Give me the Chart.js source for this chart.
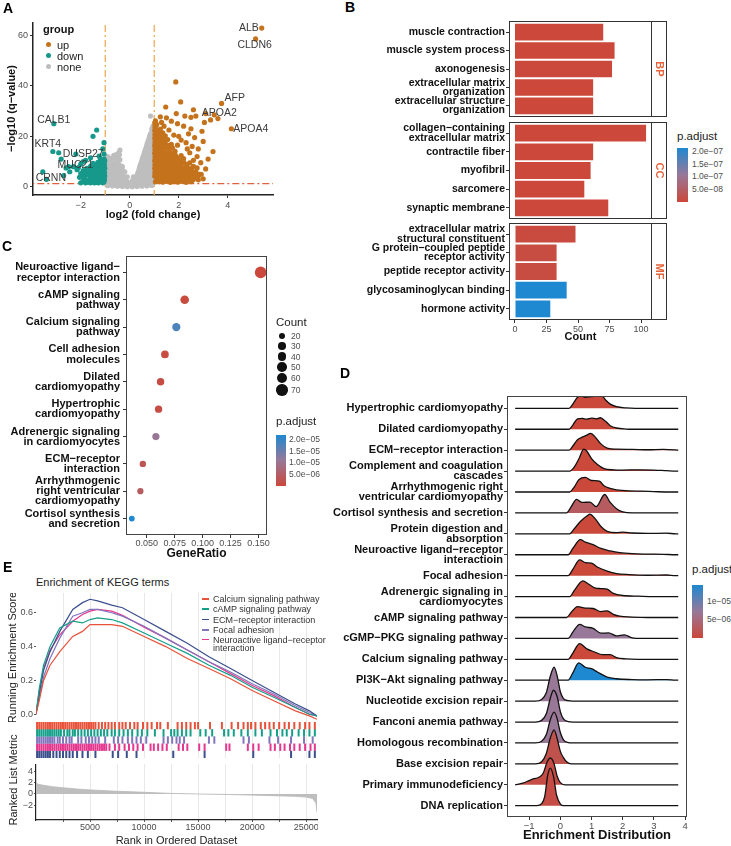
<!DOCTYPE html>
<html>
<head>
<meta charset="utf-8">
<script src="https://cdn.jsdelivr.net/npm/chart.js@4.4.0/dist/chart.umd.min.js"></script>
<style>
body { margin: 0; background: #fff; }
#fig { position: relative; width: 731px; height: 846px; overflow: hidden; font-family: 'Liberation Sans', Arial, sans-serif; color: #222; }
#fig canvas { position: absolute; }
.t { position: absolute; white-space: nowrap; line-height: 1; }
</style>
</head>
<body>
<div id="fig"></div>
<script>
// ---------------- data ----------------

// A: volcano, [log2FC, -log10 q]
var upPts = [
  [1.05,2],[1.2,2.1],[1.36,1.9],[1.5,2.2],[1.66,1.8],[1.8,2.1],[1.97,1.9],[2.12,2.2],[2.3,1.8],[2.52,2.1],
  [1.12,2.8],[1.28,2.8],[1.43,2.7],[1.58,2.9],[1.74,2.8],[1.88,2.7],[2.04,2.9],[2.2,2.8],[2.38,2.7],[2.6,2.9],[2.8,2.8],
  [1.1,3.5],[1.26,3.6],[1.41,3.3],[1.56,3.7],[1.72,3.4],[1.9,3.6],[2.06,3.3],[2.24,3.8],[2.46,3.4],[2.72,3.6],
  [1.02,4.3],[1.17,4.3],[1.32,4.2],[1.47,4.4],[1.63,4.3],[1.8,4.2],[1.98,4.4],[2.15,4.3],[2.33,4.2],[2.55,4.4],[2.8,4.3],
  [1.04,5.1],[1.19,4.9],[1.34,5.2],[1.5,4.8],[1.66,5.1],[1.81,5.3],[2.0,4.9],[2.19,5.2],[2.41,4.8],[2.62,5.1],[2.92,5],
  [1.03,5.8],[1.18,5.8],[1.33,5.7],[1.5,5.9],[1.68,5.8],[1.86,5.7],[2.05,5.9],[2.25,5.8],[2.46,5.7],[2.7,5.9],
  [1.1,6.6],[1.26,6.4],[1.41,6.7],[1.59,6.3],[1.76,6.6],[1.95,6.4],[2.14,6.7],[2.36,6.5],[2.55,6.3],
  [1.02,7.3],[1.18,7.3],[1.33,7.2],[1.5,7.4],[1.67,7.3],[1.85,7.2],[2.04,7.4],[2.25,7.3],[2.45,7.2],
  [1.05,8.1],[1.2,7.9],[1.36,8.2],[1.51,7.8],[1.7,8.1],[1.9,7.9],[2.1,8.2],[2.31,7.8],[2.6,8.1],
  [1.03,8.8],[1.17,8.8],[1.33,8.7],[1.52,8.9],[1.7,8.8],[1.9,8.7],[2.1,8.9],[2.33,8.8],
  [1.1,9.6],[1.25,9.4],[1.44,9.7],[1.6,9.3],[1.8,9.6],[2.0,9.4],[2.21,9.7],[2.45,9.5],
  [1.02,10.3],[1.18,10.3],[1.34,10.2],[1.52,10.4],[1.7,10.3],[1.9,10.2],[2.1,10.4],
  [1.05,11.1],[1.2,10.9],[1.36,11.2],[1.55,10.8],[1.75,11.1],[1.96,10.9],[2.2,11.2],
  [1.03,11.8],[1.17,11.8],[1.32,11.7],[1.5,11.9],[1.7,11.8],[1.92,11.7],
  [1.1,12.6],[1.25,12.4],[1.45,12.7],[1.65,12.3],[1.86,12.6],[2.1,12.4],
  [1.02,13.3],[1.16,13.3],[1.32,13.2],[1.52,13.4],[1.72,13.3],
  [1.05,14.1],[1.2,13.9],[1.4,14.2],[1.6,13.8],[1.85,14.1],
  [1.03,14.8],[1.18,14.8],[1.38,14.7],[1.6,14.9],
  [1.1,15.6],[1.3,15.4],[1.5,15.7],[1.75,15.3],
  [1.02,16.3],[1.17,16.3],[1.36,16.2],[1.58,16.4],
  [1.05,17.1],[1.25,16.9],[1.45,17.2],[1.7,16.8],
  [1.03,17.8],[1.2,17.8],[1.4,17.7],
  [1.1,18.6],[1.3,18.4],[1.55,18.7],
  [1.02,19.3],[1.18,19.3],[1.36,19.2],
  [1.05,20.1],[1.25,19.9],[1.45,20.2],[1.03,20.8],[1.2,20.8],
  [1.1,21.6],[1.35,21.4],[1.02,22.3],[1.18,22.3],
  [1.05,23.1],[1.25,22.9],[1.03,23.8],[1.1,24.6],[1.02,25.3],[1.05,26.1],
  [2.75,12],[2.9,9.6],[3.1,7.1],[2.8,15],[3.0,18],[2.65,19.5],[2.4,21],[2.2,24],[1.95,25],[1.7,26],
  [2.5,23],[3.2,11],[3.4,14],[2.95,22],[3.3,26.5],[3.05,25.5],[2.7,28],[2.5,27.5],[2.25,28],[1.5,27.3],
  [1.25,27.7],[1.9,29],[2.6,30.5],[3.1,29],[1.47,31.6],[2.08,33.6],[1.88,41.5],[3.45,28.5],[3.6,27],
  [3.75,33],[4.15,23],[5.14,58.5],[5.39,62.8],[2.0,20],[2.3,17.5],[2.55,16],[2.85,5],[3.0,3.2],
  [2.45,13.5],[2.35,15],[2.6,10.5],[2.75,7.5],[1.95,16.5],[2.1,18.5],[1.8,20.5],[1.6,22.5],[1.4,24],[1.3,25.5]
];
var downPts = [
  [-1.1,1.6],[-1.28,1.6],[-1.44,1.6],[-1.6,1.6],[-1.8,1.6],[-2.0,1.6],
  [-1.05,2],[-1.2,2.2],[-1.35,1.8],[-1.5,2.1],[-1.7,1.9],[-1.9,2.3],
  [-1.03,2.8],[-1.18,2.8],[-1.32,2.8],[-1.48,2.8],[-1.62,2.8],[-1.8,2.8],
  [-1.1,3.5],[-1.25,3.7],[-1.4,3.3],[-1.6,3.6],[-1.85,3.4],[-2.05,3.8],
  [-1.02,4.3],[-1.16,4.3],[-1.3,4.3],[-1.46,4.3],[-1.64,4.3],[-1.9,4.3],
  [-1.05,5],[-1.2,5.2],[-1.35,4.8],[-1.55,5.1],[-1.75,4.9],[-2.0,5.3],
  [-1.03,5.8],[-1.17,5.8],[-1.32,5.8],[-1.48,5.8],[-1.66,5.8],[-1.85,5.8],
  [-1.1,6.5],[-1.25,6.7],[-1.45,6.3],[-1.65,6.6],[-1.9,6.4],[-2.15,6.8],
  [-1.02,7.3],[-1.16,7.3],[-1.32,7.3],[-1.5,7.3],[-1.75,7.3],
  [-1.05,8],[-1.2,8.2],[-1.4,7.8],[-1.6,8.1],[-2.1,7.6],[-2.3,8],
  [-1.03,8.8],[-1.16,8.8],[-1.33,8.8],
  [-1.1,9.5],[-1.3,9.7],[-1.5,9.3],[-1.02,10.3],[-1.15,10.3],[-1.05,11],[-1.2,11.2],
  [-1.05,13],[-1.1,15],[-1.05,17.5],[-1.35,22.5],[-1.5,20],[-1.25,12.2],[-1.6,11.5],[-1.8,10.5],
  [-2.0,9],[-2.5,8],[-2.6,7.5],[-2.8,11],[-2.9,13.5],[-3.14,14],[-3.1,25],[-3.55,6],[-3.4,3],
  [-2.2,13],[-1.9,10],[-2.7,4.5],[-2.45,6]
];
var nonePts = [
  [-0.9,0.5],[-0.7,0.4],[-0.5,0.3],[-0.3,0.2],[-0.1,0.1],[0.1,0.1],[0.3,0.2],[0.5,0.3],[0.7,0.4],[0.9,0.6],
  [-0.85,0.9],[-0.6,0.9],[-0.4,0.8],[-0.2,0.7],[0,0.6],[0.2,0.7],[0.4,0.8],[0.6,0.9],[0.85,1.0],
  [-0.95,1.5],[-0.8,1.4],[-0.6,1.6],[-0.4,1.3],[-0.2,1.1],[0.2,1.0],[0.4,1.4],[0.6,1.5],[0.8,1.7],[0.95,1.5],
  [-0.88,2.2],[-0.68,2.2],[-0.48,2.2],[-0.28,2.1],[-0.1,1.9],[0.1,1.8],[0.32,2.1],[0.52,2.2],[0.72,2.2],[0.9,2.3],
  [-0.9,3],[-0.75,3.2],[-0.55,2.9],[-0.35,3.1],[-0.15,2.6],[0.25,2.8],[0.45,3.1],[0.65,2.9],[0.85,3.2],
  [-0.85,3.8],[-0.65,3.8],[-0.45,3.8],[-0.28,3.7],[0.2,3.4],[0.38,3.8],[0.58,3.8],[0.78,3.8],[0.97,3.8],
  [-0.95,4.5],[-0.8,4.7],[-0.6,4.4],[-0.4,4.6],[-0.25,4.2],[0.3,4.4],[0.5,4.6],[0.7,4.5],[0.9,4.7],
  [-0.88,5.3],[-0.68,5.3],[-0.48,5.3],[-0.3,5.2],[0.32,5.2],[0.45,5.3],[0.62,5.3],[0.82,5.3],
  [-0.9,6],[-0.7,6.2],[-0.5,5.9],[-0.35,6.1],[0.35,6],[0.55,6.2],[0.75,5.9],[0.95,6.1],
  [-0.85,6.8],[-0.62,6.8],[-0.45,6.8],[-0.3,6.6],[0.38,6.8],[0.5,6.8],[0.68,6.8],[0.88,6.8],
  [-0.95,7.5],[-0.75,7.3],[-0.55,7.6],[-0.4,7.4],[0.4,7.6],[0.6,7.4],[0.8,7.5],
  [-0.82,8.3],[-0.65,8.3],[-0.5,8.3],[-0.35,8.2],[0.42,8.3],[0.55,8.3],[0.72,8.3],[0.92,8.3],
  [-0.9,9],[-0.6,9.2],[-0.45,8.9],[0.45,9.1],[0.65,8.9],[0.9,9.2],
  [-0.75,9.8],[-0.5,9.8],[0.48,9.8],[0.6,9.8],[0.78,9.8],[0.95,9.8],
  [-0.95,10.5],[-0.55,10.4],[-0.4,10.7],[0.5,10.5],[0.7,10.7],[0.85,10.4],
  [-0.78,11.3],[-0.6,11.3],[-0.45,11.3],[0.52,11.3],[0.65,11.3],[0.8,11.3],[0.97,11.3],
  [-0.9,12],[-0.5,12.2],[0.55,12.1],[0.75,11.9],[0.95,12.2],
  [-0.55,12.8],[-0.42,12.8],[0.58,12.8],[0.72,12.8],[0.88,12.8],
  [-0.45,13.5],[-0.4,14.6],[0.6,13.6],[0.8,13.4],[-0.8,11],[-0.65,12.5],[-0.3,8],[-0.2,6],[-0.1,4],
  [0.0,1.5],[0.1,2.5],[0.15,4],
  [0.62,14.2],[0.75,14.2],[0.9,14.2],[0.68,15.8],[0.8,15.8],[0.97,15.8],[0.72,17.3],[0.85,17.3],
  [0.78,18.8],[0.92,18.8],[0.82,20.3],[0.97,20.3],[0.92,23.2],
  [0.65,15],[0.85,15.2],[0.95,14.8],[0.7,16.5],[0.9,16.6],[0.75,18],[0.95,18.1],[0.8,19.5],[0.9,19.6],
  [0.85,21],[0.95,21.1],[0.9,22.5],[0.95,24],[0.85,28]
];
var fcCut = 1;
var qCut = 1.3;
var geneNames = ['ALB', 'CLDN6', 'AFP', 'APOA2', 'APOA4', 'CALB1', 'KRT4', 'DUSP27', 'MUC21', 'CRNN'];
var geneFC = [5.39, 5.14, 3.75, 3.45, 4.15, -3.1, -3.14, -1.9, -2.3, -3.55];
var geneQ = [62.8, 58.5, 33, 28.5, 23, 25, 14, 10, 8, 6];
var volcanoXTicks = [-2, 0, 2, 4];
var volcanoYTicks = [0, 20, 40, 60];

// B: GO barplot
var bpTerms = ['muscle contraction', 'muscle system process', 'axonogenesis', ['extracellular matrix', 'organization'], ['extracellular structure', 'organization']];
var bpCount = [70, 79, 77, 62, 62];
var bpP = [1e-9, 1e-9, 2e-9, 1e-9, 1e-9];
var ccTerms = [['collagen\u2212containing', 'extracellular matrix'], 'contractile fiber', 'myofibril', 'sarcomere', 'synaptic membrane'];
var ccCount = [104, 62, 60, 55, 74];
var ccP = [1e-9, 1e-9, 1e-9, 1e-9, 1e-9];
var mfTerms = [['extracellular matrix', 'structural constituent'], ['G protein\u2212coupled peptide', 'receptor activity'], 'peptide receptor activity', 'glycosaminoglycan binding', 'hormone activity'];
var mfCount = [48, 33, 33, 41, 28];
var mfP = [5e-9, 8e-9, 8e-9, 2.12e-7, 2.12e-7];
var goCountTicks = [0, 25, 50, 75, 100];
var goLegendTicks = ['2.0e\u221207', '1.5e\u221207', '1.0e\u221207', '5.0e\u221208'];

// C: KEGG dotplot
var keggTerms = [['Neuroactive ligand\u2212', 'receptor interaction'], ['cAMP signaling', 'pathway'], ['Calcium signaling', 'pathway'], ['Cell adhesion', 'molecules'], ['Dilated', 'cardiomyopathy'], ['Hypertrophic', 'cardiomyopathy'], ['Adrenergic signaling', 'in cardiomyocytes'], ['ECM\u2212receptor', 'interaction'], ['Arrhythmogenic', 'right ventricular', 'cardiomyopathy'], ['Cortisol synthesis', 'and secretion']];
var keggRatio = [0.152, 0.0839, 0.0764, 0.0662, 0.0623, 0.0605, 0.0581, 0.0464, 0.0442, 0.0365];
var keggCount = [73, 40, 37, 32, 30, 29, 28, 22, 21, 18];
var keggP = [2e-7, 5e-7, 1.75e-5, 8e-7, 1e-6, 1.2e-6, 1.05e-5, 3e-6, 4.5e-6, 2.17e-5];
var keggRatioTicks = [0.05, 0.075, 0.1, 0.125, 0.15];
var keggCountLegend = [20, 30, 40, 50, 60, 70];
var keggLegendTicks = ['2.0e\u221205', '1.5e\u221205', '1.0e\u221205', '5.0e\u221206'];

// D: ridgeline, top to bottom, shapes are [x, height in rows]
var ridgeTerms = ['Hypertrophic cardiomyopathy', 'Dilated cardiomyopathy', 'ECM\u2212receptor interaction', ['Complement and coagulation', 'cascades'], ['Arrhythmogenic right', 'ventricular cardiomyopathy'], 'Cortisol synthesis and secretion', ['Protein digestion and', 'absorption'], ['Neuroactive ligand\u2212receptor', 'interactioin'], 'Focal adhesion', ['Adrenergic signaling in', 'cardiomyocytes'], 'cAMP signaling pathway', 'cGMP\u2212PKG signaling pathway', 'Calcium signaling pathway', 'PI3K\u2212Akt signaling pathway', 'Nucleotide excision repair', 'Fanconi anemia pathway', 'Homologous recombination', 'Base excision repair', 'Primary immunodeficiency', 'DNA replication'];
var ridgeP = [1e-7, 1e-7, 1e-7, 1e-7, 1e-7, 3e-6, 1e-7, 1e-7, 1e-7, 1e-7, 1e-7, 7.2e-6, 1e-7, 1.43e-5, 7e-6, 7e-6, 7e-6, 1.5e-6, 8e-7, 8e-7];
var ridgeShapes = [
  [[0.28,0],[0.4,0.2],[0.55,0.53],[0.65,0.58],[0.8,0.53],[1.0,0.56],[1.2,0.59],[1.35,0.57],[1.45,0.4],[1.6,0.2],[1.8,0.08],[2.1,0.02],[2.4,0]],
  [[0.28,0],[0.4,0.2],[0.55,0.5],[0.7,0.52],[0.85,0.48],[1.0,0.53],[1.15,0.5],[1.28,0.55],[1.45,0.38],[1.6,0.17],[1.8,0.06],[2.1,0.01],[2.4,0]],
  [[0.28,0],[0.4,0.2],[0.55,0.5],[0.7,0.62],[0.85,0.72],[0.97,0.8],[1.1,0.66],[1.3,0.3],[1.5,0.1],[1.8,0.05],[2.3,0.04],[2.8,0.02],[3.3,0.04],[3.7,0.01]],
  [[0.3,0],[0.45,0.2],[0.6,0.6],[0.75,1.05],[0.85,0.95],[1.0,0.6],[1.2,0.3],[1.4,0.12],[1.7,0.06],[2.0,0.05],[2.5,0.06],[3.0,0.05],[3.4,0.02],[3.7,0]],
  [[0.3,0],[0.45,0.25],[0.6,0.6],[0.8,0.7],[1.0,0.55],[1.25,0.52],[1.4,0.3],[1.6,0.17],[1.8,0.1],[2.2,0.05],[2.6,0.04],[3.0,0.02],[3.5,0]],
  [[0.2,0],[0.35,0.3],[0.52,0.65],[0.7,0.5],[0.95,0.52],[1.15,0.3],[1.42,0.88],[1.6,0.5],[1.8,0.2],[2.0,0.05],[2.3,0]],
  [[0.3,0],[0.45,0.25],[0.65,0.6],[0.85,0.85],[0.95,0.94],[1.1,0.75],[1.3,0.35],[1.5,0.12],[1.8,0.06],[2.0,0.08],[2.3,0.04],[2.8,0.02],[3.4,0.03],[3.7,0]],
  [[0.25,0],[0.4,0.3],[0.64,0.72],[0.8,0.6],[1.05,0.48],[1.3,0.3],[1.6,0.18],[1.9,0.1],[2.3,0.05],[2.8,0.03],[3.3,0.02],[3.7,0]],
  [[0.25,0],[0.4,0.3],[0.62,0.75],[0.8,0.62],[1.0,0.6],[1.2,0.4],[1.5,0.22],[1.8,0.1],[2.2,0.05],[2.8,0.02],[3.4,0.03],[3.7,0]],
  [[0.3,0],[0.45,0.3],[0.72,0.75],[0.9,0.6],[1.1,0.42],[1.3,0.38],[1.5,0.35],[1.7,0.15],[2.0,0.05],[2.5,0.02],[3.0,0]],
  [[0.2,0],[0.35,0.25],[0.55,0.52],[0.8,0.45],[1.05,0.43],[1.3,0.28],[1.5,0.32],[1.7,0.15],[1.9,0.06],[2.3,0.02],[2.8,0]],
  [[0.25,0],[0.4,0.3],[0.62,0.67],[0.8,0.55],[1.05,0.48],[1.3,0.25],[1.55,0.26],[1.8,0.12],[2.05,0.17],[2.3,0.03],[2.6,0]],
  [[0.25,0],[0.4,0.3],[0.62,0.75],[0.85,0.5],[1.1,0.35],[1.35,0.22],[1.6,0.22],[1.8,0.08],[2.1,0.02],[2.5,0]],
  [[0.25,0],[0.4,0.35],[0.59,0.83],[0.8,0.62],[1.0,0.55],[1.2,0.38],[1.5,0.15],[1.8,0.07],[2.3,0.03],[2.8,0.02],[3.4,0.03],[3.7,0]],
  [[-0.8,0],[-0.6,0.08],[-0.45,0.4],[-0.32,1.2],[-0.2,1.63],[-0.1,1.2],[0.0,0.45],[0.1,0.12],[0.25,0.02],[0.4,0]],
  [[-0.8,0],[-0.6,0.08],[-0.45,0.4],[-0.32,1.15],[-0.22,1.52],[-0.1,1.2],[0.0,0.5],[0.1,0.15],[0.25,0.02],[0.4,0]],
  [[-0.8,0],[-0.6,0.08],[-0.45,0.4],[-0.32,1.12],[-0.2,1.47],[-0.1,1.15],[0.0,0.5],[0.1,0.15],[0.25,0.02],[0.4,0]],
  [[-0.8,0],[-0.6,0.1],[-0.45,0.5],[-0.32,1.25],[-0.2,1.63],[-0.1,1.2],[0.0,0.6],[0.1,0.3],[0.2,0.1],[0.35,0]],
  [[-1.2,0.08],[-1.0,0.2],[-0.85,0.29],[-0.7,0.35],[-0.55,0.55],[-0.42,1.1],[-0.32,1.28],[-0.2,1.0],[-0.1,0.4],[0.0,0.1],[0.15,0]],
  [[-0.75,0],[-0.6,0.1],[-0.5,0.45],[-0.4,1.5],[-0.32,1.8],[-0.22,1.4],[-0.12,0.5],[0.0,0.08],[0.1,0]]
];
var ridgeFrom = -1.45;
var ridgeTo = 3.78;
var ridgeXTicks = [-1, 0, 1, 2, 3, 4];
var ridgeLegendTicks = ['1e\u221205', '5e\u221206'];

// E: GSEA running score (rank in thousands)
var gseaNames = ['Calcium signaling pathway', 'cAMP signaling pathway', 'ECM\u2212receptor interaction', 'Focal adhesion', ['Neuroactive ligand\u2212receptor', 'interaction']];
var esRankK = [0, 0.3, 0.7, 1.3, 2.2, 3.4, 4.3, 5.0, 5.7, 7.0, 8.0, 10, 12, 14, 16, 18, 20, 22, 24, 25.3, 26];
var esCalcium = [0, 0.08, 0.20, 0.29, 0.37, 0.46, 0.49, 0.53, 0.53, 0.53, 0.52, 0.46, 0.40, 0.33, 0.27, 0.21, 0.14, 0.08, 0.02, -0.01, -0.03];
var esCamp = [0, 0.15, 0.29, 0.40, 0.51, 0.55, 0.54, 0.56, 0.57, 0.56, 0.54, 0.48, 0.42, 0.36, 0.29, 0.23, 0.16, 0.10, 0.04, 0.0, -0.01];
var esEcm = [0, 0.12, 0.26, 0.37, 0.49, 0.62, 0.66, 0.68, 0.67, 0.645, 0.63, 0.56, 0.49, 0.42, 0.34, 0.27, 0.20, 0.13, 0.06, 0.02, -0.01];
var esFocal = [0, 0.10, 0.22, 0.33, 0.45, 0.58, 0.60, 0.62, 0.62, 0.60, 0.58, 0.52, 0.45, 0.38, 0.31, 0.25, 0.18, 0.12, 0.05, 0.01, -0.01];
var esNeuro = [0, 0.14, 0.27, 0.38, 0.47, 0.55, 0.59, 0.61, 0.62, 0.61, 0.585, 0.515, 0.45, 0.38, 0.31, 0.24, 0.17, 0.11, 0.04, 0.0, -0.01];
var hitsCalcium = [0.1,0.3,0.5,0.7,0.9,1.1,1.3,1.5,1.7,1.9,2.1,2.3,2.5,2.7,2.9,3.1,3.3,3.5,3.7,3.9,4.1,4.3,4.5,4.7,4.9,5.1,5.3,5.5,5.8,6.1,6.4,6.7,7.0,7.3,7.7,8.0,8.3,8.7,9.1,9.4,9.9,10.3,10.7,11.2,11.5,12.2,13.1,13.5,13.9,14.3,14.7,15.0,16.1,17.2,18.1,18.7,19.2,19.6,19.9,20.3,20.8,21.2,21.6,22.0,22.5,23.0,23.4,23.9,24.4,24.9,25.3,25.8];
var hitsCamp = [0.1,0.3,0.5,0.7,0.9,1.1,1.3,1.5,1.7,1.9,2.1,2.3,2.6,2.9,3.1,3.4,3.6,3.9,4.2,4.5,4.8,5.1,5.4,5.7,6.0,6.3,6.6,7.0,7.3,7.7,8.1,8.5,8.9,9.4,9.8,10.3,11.0,11.8,12.5,12.8,13.1,13.5,13.9,14.3,15.2,15.7,16.3,17.4,17.8,18.3,19.0,19.6,20.3,20.9,21.7,22.3,22.8,23.2,23.7,24.3,24.8,25.3,25.8];
var hitsFocal = [0.1,0.3,0.5,0.7,0.9,1.1,1.3,1.5,1.7,2.0,2.2,2.5,2.8,3.1,3.3,3.9,4.2,4.6,4.9,5.2,5.5,5.8,6.4,7.2,7.6,8.0,8.5,8.9,9.3,9.7,10.2,11.8,12.2,12.6,13.0,13.3,13.7,16.0,16.5,19.2,19.7,21.6,22.4,23.6,24.8,25.6];
var hitsNeuro = [0.1,0.3,0.5,0.7,0.9,1.1,1.3,1.5,1.7,1.9,2.1,2.3,2.5,2.7,2.9,3.1,3.3,3.5,3.7,3.9,4.1,4.3,4.5,4.7,4.9,5.1,5.3,5.5,5.7,5.9,6.1,6.3,6.5,6.8,7.3,7.7,8.2,8.6,9.0,9.4,9.9,10.6,10.9,11.3,11.7,12.1,13.2,13.6,14.0,15.1,15.6,17.6,17.9,19.6,20.1,20.6,21.7,22.1,22.6,23.0,23.5,23.9,24.4,24.9,25.4,25.8];
var hitsEcm = [0.1,0.3,0.5,0.7,0.9,1.1,1.3,1.6,1.9,2.2,2.5,2.8,3.1,3.4,3.8,4.3,4.8,5.5,7.1,7.6,8.4,9.3,12.7,15.6,20.1,23.6,25.3,25.8];
var metricRankK = [0, 0.2, 0.8, 1.5, 2.5, 4, 5, 7, 10, 12.5, 15, 18, 20, 22, 24, 25, 25.6, 25.9, 26];
var metricValue = [2.0, 1.7, 1.5, 1.3, 1.1, 0.85, 0.72, 0.52, 0.3, 0.1, 0.0, -0.1, -0.2, -0.3, -0.42, -0.55, -0.8, -1.6, -3.2];
var rankGrid = [2500, 5000, 7500, 10000, 12500, 15000, 17500, 20000, 22500, 25000];
var esTicks = [0, 0.2, 0.4, 0.6];
var metricTicks = [-2, 0, 2, 4];

// ---------------- setup ----------------
Chart.defaults.font.family = "'Liberation Sans', Arial, sans-serif";
Chart.defaults.color = '#4d4d4d';
Chart.defaults.animation = false;
Chart.defaults.responsive = false;
Chart.defaults.devicePixelRatio = 1;
Chart.defaults.events = [];
Chart.defaults.layout.autoPadding = false;
Chart.defaults.plugins.legend.display = false;
Chart.defaults.plugins.tooltip.enabled = false;

var fig = document.getElementById('fig');
var RED = [203, 72, 58], MID = [152, 120, 152], BLUE = [30, 136, 208];
var C_UP = '#C4731C', C_DOWN = '#16998A', C_NONE = '#BEBEBE';
var gseaColors = ['#E8513A', '#14A089', '#3B4F8C', '#8275BC', '#E5378E'];

function mk(left, top, w, h) {
  var c = document.createElement('canvas');
  c.width = w; c.height = h;
  c.style.left = left + 'px'; c.style.top = top + 'px';
  c.style.width = w + 'px'; c.style.height = h + 'px';
  fig.appendChild(c);
  return c;
}

function txt(s, x, y, size, opt) {
  opt = opt || {};
  var d = document.createElement('div');
  d.className = 't';
  d.textContent = s;
  d.style.left = x + 'px';
  d.style.top = y + 'px';
  d.style.fontSize = size + 'px';
  if (opt.bold) d.style.fontWeight = 'bold';
  d.style.color = opt.color || '#222';
  d.style.transform = opt.rot ? 'translate(-50%,-50%) rotate(-90deg)' : 'translateY(-50%)';
  fig.appendChild(d);
  return d;
}

function box(x, y, w, h, css) {
  var d = document.createElement('div');
  d.style.cssText = 'position:absolute;left:' + x + 'px;top:' + y + 'px;width:' + w + 'px;height:' + h + 'px;' + css;
  fig.appendChild(d);
}

function mix(a, b, u) {
  return [0, 1, 2].map(function(k) { return Math.round(a[k] + (b[k] - a[k]) * u); });
}
function pColor(p, lo, hi) {
  var t = Math.max(0, Math.min(1, (p - lo) / (hi - lo)));
  var c = t < 0.5 ? mix(RED, MID, t * 2) : mix(MID, BLUE, (t - 0.5) * 2);
  return 'rgb(' + c.join(',') + ')';
}
var gradCss = 'background:linear-gradient(to top, rgb(' + RED.join(',') + '), rgb(' + MID.join(',') + '), rgb(' + BLUE.join(',') + '));';

// fixed axis sizes so plot areas land where the figure has them;
// label overhang padding is switched off, otherwise it shrinks the plot area
function noPad() { return {left: 0, top: 0, right: 0, bottom: 0}; }
function yFix(w) { return function(s) { s.width = w; s.paddingTop = 0; s.paddingBottom = 0; s.getPadding = noPad; if (s._margins) { s._margins.top = 0; s._margins.bottom = 0; } }; }
function xFix(h) { return function(s) { s.height = h; s.paddingLeft = 0; s.paddingRight = 0; s.getPadding = noPad; if (s._margins) { s._margins.left = 0; s._margins.right = 0; } }; }
function setTicks(vals) { return function(s) { s.ticks = vals.map(function(v) { return {value: v}; }); }; }
function toXY(arr) { return arr.map(function(p) { return {x: p[0], y: p[1]}; }); }

function frame(color) {
  return {
    id: 'frame',
    afterDraw: function(chart) {
      var a = chart.chartArea, c = chart.ctx;
      c.save();
      c.strokeStyle = color; c.lineWidth = 1;
      c.strokeRect(Math.round(a.left) + 0.5, Math.round(a.top) + 0.5, Math.round(a.right - a.left) - 1, Math.round(a.bottom - a.top) - 1);
      c.restore();
    }
  };
}

var tickFont = {size: 9};
var tickMark = {drawOnChartArea: false, drawTicks: true, tickLength: 3, color: '#333'};

// ---------------- A: volcano ----------------
var geneOffset = [[-3, 0, 'right'], [-1, 6, 'center'], [3, -5, 'left'], [5, -2, 'center'], [2, 0, 'left'],
                  [0, -4, 'center'], [-5, -7, 'center'], [0, -8, 'center'], [2, -2, 'center'], [8, 6, 'center']];
var geneLabels = {
  id: 'geneLabels',
  afterDatasetsDraw: function(chart) {
    var c = chart.ctx, xs = chart.scales.x, ys = chart.scales.y;
    c.save();
    c.font = "10.5px 'Liberation Sans', Arial";
    c.fillStyle = '#3a3a3a';
    c.textBaseline = 'middle';
    for (var i = 0; i < geneNames.length; i++) {
      c.textAlign = geneOffset[i][2];
      c.fillText(geneNames[i], xs.getPixelForValue(geneFC[i]) + geneOffset[i][0], ys.getPixelForValue(geneQ[i]) + geneOffset[i][1]);
    }
    c.restore();
  }
};
var cutStyle = {type: 'line', pointRadius: 0, borderWidth: 1.2, borderDash: [7, 3, 2, 3], order: 10};
var dotR = 2.6;
new Chart(mk(0, 22, 276, 203), {
  type: 'scatter',
  data: {
    datasets: [
      Object.assign({data: [{x: -fcCut, y: -4}, {x: -fcCut, y: 70}], borderColor: '#EDA64A'}, cutStyle),
      Object.assign({data: [{x: fcCut, y: -4}, {x: fcCut, y: 70}], borderColor: '#EDA64A'}, cutStyle),
      Object.assign({data: [{x: -5, y: qCut}, {x: 7, y: qCut}], borderColor: '#E2603C'}, cutStyle),
      {data: toXY(nonePts), backgroundColor: C_NONE, pointRadius: dotR, borderWidth: 0, order: 3},
      {data: toXY(upPts), backgroundColor: C_UP, pointRadius: dotR, borderWidth: 0, order: 2},
      {data: toXY(downPts), backgroundColor: C_DOWN, pointRadius: dotR, borderWidth: 0, order: 1}
    ]
  },
  options: {
    layout: {padding: {right: 3}},
    scales: {
      x: {
        type: 'linear', min: -3.95, max: 5.85,
        afterBuildTicks: setTicks(volcanoXTicks), afterFit: xFix(30),
        ticks: {font: tickFont, padding: 2, maxRotation: 0, callback: function(v) { return v < 0 ? '\u2212' + (-v) : String(v); }},
        grid: tickMark, border: {color: '#222', width: 1.5},
        title: {display: true, text: 'log2 (fold change)', color: '#111', font: {size: 11, weight: 'bold'}, padding: {bottom: 3, top: 0}}
      },
      y: {
        type: 'linear', min: -3.2, max: 65.2,
        afterBuildTicks: setTicks(volcanoYTicks), afterFit: yFix(33),
        ticks: {font: tickFont, padding: 2},
        grid: tickMark, border: {color: '#222', width: 1.5},
        title: {display: true, text: '\u2212log10 (q\u2212value)', color: '#111', font: {size: 11, weight: 'bold'}, padding: {top: 5, bottom: 0}}
      }
    }
  },
  plugins: [geneLabels]
});
txt('group', 43, 29, 11, {bold: true, color: '#111'});
[['up', C_UP], ['down', C_DOWN], ['none', C_NONE]].forEach(function(g, i) {
  box(46, 42 + i * 11, 5, 5, 'border-radius:50%;background:' + g[1] + ';');
  txt(g[0], 57, 44.5 + i * 11, 11, {color: '#222'});
});

// ---------------- B: GO facets ----------------
function goStrip(name) {
  return {
    id: 'strip',
    afterDraw: function(chart) {
      var a = chart.chartArea, c = chart.ctx;
      c.save();
      c.strokeStyle = '#333'; c.lineWidth = 1;
      c.strokeRect(Math.round(a.right) - 0.5, Math.round(a.top) + 0.5, 15, Math.round(a.bottom - a.top) - 1);
      c.translate(a.right + 7.5, (a.top + a.bottom) / 2);
      c.rotate(Math.PI / 2);
      c.fillStyle = '#E5633A';
      c.font = "bold 11px 'Liberation Sans', Arial";
      c.textAlign = 'center'; c.textBaseline = 'middle';
      c.fillText(name, 0, 0);
      c.restore();
    }
  };
}
function goFacet(top, h, terms, counts, pvals, name, showX) {
  new Chart(mk(357, top, 311, h), {
    type: 'bar',
    data: {
      datasets: [{
        data: counts.map(function(v, i) { return {x: v, y: i}; }),
        backgroundColor: pvals.map(function(p) { return pColor(p, 0, 2.12e-7); }),
        barPercentage: 0.9, categoryPercentage: 1
      }]
    },
    options: {
      indexAxis: 'y',
      layout: {padding: {right: 16}},
      scales: {
        x: {
          type: 'linear', min: -4.76, max: 108.7, display: showX,
          afterBuildTicks: setTicks(goCountTicks), afterFit: xFix(showX ? 24 : 0),
          ticks: {font: tickFont, padding: 1, maxRotation: 0},
          grid: tickMark, border: {display: false},
          title: {display: true, text: 'Count', color: '#111', font: {size: 11, weight: 'bold'}, padding: {top: 0, bottom: 0}}
        },
        y: {
          type: 'linear', reverse: true, min: -0.6, max: 4.6, offset: false,
          afterBuildTicks: setTicks([0, 1, 2, 3, 4]), afterFit: yFix(152),
          ticks: {autoSkip: false, padding: 1, color: '#111', font: {size: 10.5, weight: 'bold', lineHeight: 0.88},
                  callback: function(v) { return terms[v]; }},
          grid: Object.assign({offset: false}, tickMark), border: {display: false}
        }
      }
    },
    plugins: [frame('#333'), goStrip(name)]
  });
}
goFacet(21, 96, bpTerms, bpCount, bpP, 'BP', false);
goFacet(122, 97, ccTerms, ccCount, ccP, 'CC', false);
goFacet(223, 121, mfTerms, mfCount, mfP, 'MF', true);
txt('p.adjust', 677, 137, 11.5, {color: '#222'});
box(677, 148, 11, 54, gradCss);
goLegendTicks.forEach(function(s, i) { txt(s, 692, 151 + i * 12.6, 8.5, {color: '#4d4d4d'}); });

// ---------------- C: KEGG dotplot ----------------
new Chart(mk(0, 256, 280, 305), {
  type: 'scatter',
  data: {
    datasets: [{
      data: keggRatio.map(function(v, i) { return {x: v, y: i}; }),
      pointRadius: keggCount.map(function(n) { return 0.68 * Math.sqrt(n); }),
      backgroundColor: keggP.map(function(p) { return pColor(p, 0, 2.17e-5); }),
      borderWidth: 0
    }]
  },
  options: {
    layout: {padding: {right: 13}},
    scales: {
      x: {
        type: 'linear', min: 0.0313, max: 0.1577,
        afterBuildTicks: setTicks(keggRatioTicks), afterFit: xFix(26),
        ticks: {font: tickFont, padding: 0, maxRotation: 0, callback: function(v) { return v.toFixed(3); }},
        grid: tickMark, border: {display: false},
        title: {display: true, text: 'GeneRatio', color: '#111', font: {size: 12, weight: 'bold'}, padding: {top: 0, bottom: 0}}
      },
      y: {
        type: 'linear', reverse: true, min: -0.6, max: 9.6,
        afterBuildTicks: setTicks([0, 1, 2, 3, 4, 5, 6, 7, 8, 9]), afterFit: yFix(126),
        ticks: {autoSkip: false, padding: 3, color: '#111', font: {size: 11, weight: 'bold', lineHeight: 0.92},
                callback: function(v) { return keggTerms[v]; }},
        grid: tickMark, border: {display: false}
      }
    }
  },
  plugins: [frame('#444')]
});
txt('Count', 276, 323, 11.5, {color: '#222'});
keggCountLegend.forEach(function(n, i) {
  var r = 0.68 * Math.sqrt(n);
  var cy = [336, 346, 356.5, 367, 378, 390][i];
  box(282 - r, cy - r, 2 * r, 2 * r, 'border-radius:50%;background:#111;');
  txt(String(n), 291, cy, 8.5, {color: '#4d4d4d'});
});
txt('p.adjust', 276, 422, 11.5, {color: '#222'});
box(276, 435, 10, 51, gradCss);
keggLegendTicks.forEach(function(s, i) { txt(s, 289, 439 + i * 11.6, 8.5, {color: '#4d4d4d'}); });

// ---------------- D: ridgeline ----------------
var nRidge = ridgeTerms.length;
var ridgeSets = ridgeTerms.map(function(t, i) {
  var base = nRidge - 1 - i;
  var pts = [[ridgeFrom, 0]].concat(ridgeShapes[i]).concat([[ridgeTo, 0]]);
  return {
    data: pts.map(function(p) { return {x: p[0], y: base + p[1]}; }),
    borderColor: '#111', borderWidth: 1.3, pointRadius: 0,
    cubicInterpolationMode: 'monotone',
    fill: {value: base},
    backgroundColor: pColor(ridgeP[i], 0, 1.43e-5),
    order: base
  };
});
new Chart(mk(330, 396, 358, 450), {
  type: 'line',
  data: {datasets: ridgeSets},
  options: {
    layout: {padding: {right: 1}},
    scales: {
      x: {
        type: 'linear', min: -1.71, max: 4.06,
        afterBuildTicks: setTicks(ridgeXTicks), afterFit: xFix(29),
        ticks: {font: {size: 9.5}, padding: 1, maxRotation: 0, callback: function(v) { return v < 0 ? '\u2212' + (-v) : String(v); }},
        grid: tickMark, border: {display: false},
        title: {display: true, text: 'Enrichment Distribution', color: '#111', font: {size: 13, weight: 'bold'}, padding: {top: 0, bottom: 3}}
      },
      y: {
        type: 'linear', min: -0.54, max: 19.59,
        afterBuildTicks: setTicks(ridgeTerms.map(function(t, i) { return i; })), afterFit: yFix(177),
        ticks: {autoSkip: false, padding: 1, color: '#111', font: {size: 11, weight: 'bold', lineHeight: 0.9},
                callback: function(v) { return ridgeTerms[nRidge - 1 - v]; }},
        grid: tickMark, border: {display: false}
      }
    }
  },
  plugins: [frame('#444')]
});
txt('p.adjust', 692, 570, 11.5, {color: '#222'});
box(692, 585, 11, 53, gradCss);
ridgeLegendTicks.forEach(function(s, i) { txt(s, 707, 601 + i * 18.3, 8.5, {color: '#4d4d4d'}); });

// ---------------- E: GSEA ----------------
var rankAxis = {type: 'linear', min: 0, max: 26000};
var gridLight = {color: '#E8E8E8', drawTicks: false, lineWidth: 1};
var esSeries = [esCalcium, esCamp, esEcm, esFocal, esNeuro];
new Chart(mk(0, 593, 318, 129), {
  type: 'line',
  data: {
    datasets: esSeries.map(function(s, k) {
      return {
        data: s.map(function(v, i) { return {x: esRankK[i] * 1000, y: v}; }),
        borderColor: gseaColors[k], borderWidth: 1.2, pointRadius: 0, tension: 0
      };
    })
  },
  options: {
    layout: {padding: {right: 1}},
    scales: {
      x: Object.assign({
        afterBuildTicks: setTicks(rankGrid), afterFit: xFix(0),
        ticks: {display: false}, grid: gridLight, border: {display: false}
      }, rankAxis),
      y: {
        type: 'linear', min: -0.046, max: 0.717,
        afterBuildTicks: setTicks(esTicks), afterFit: yFix(36),
        ticks: {font: tickFont, padding: 1, callback: function(v) { return v.toFixed(1); }},
        grid: {drawOnChartArea: false, tickLength: 2, color: '#555'}, border: {display: false},
        title: {display: true, text: 'Running Enrichment Score', color: '#222', font: {size: 11}, padding: {top: 6, bottom: 0}}
      }
    }
  }
});

var hitRows = [hitsCalcium, hitsCamp, hitsFocal, hitsNeuro, hitsEcm];
var hitColors = [gseaColors[0], gseaColors[1], gseaColors[3], gseaColors[4], gseaColors[2]];
new Chart(mk(0, 722, 318, 36), {
  type: 'scatter',
  data: {
    datasets: hitRows.map(function(row, k) {
      return {
        data: row.map(function(r) { return {x: r * 1000, y: k}; }),
        pointStyle: 'line', rotation: 90, pointRadius: 3.7,
        borderColor: hitColors[k], borderWidth: 2
      };
    })
  },
  options: {
    layout: {padding: {right: 1}},
    scales: {
      x: Object.assign({
        afterBuildTicks: setTicks(rankGrid), afterFit: xFix(0),
        ticks: {display: false}, grid: gridLight, border: {display: false}
      }, rankAxis),
      y: {
        type: 'linear', reverse: true, min: -0.5, max: 4.5, afterFit: yFix(36),
        ticks: {display: false}, grid: {display: false}, border: {display: false}
      }
    }
  }
});

new Chart(mk(0, 764, 318, 82), {
  type: 'line',
  data: {
    datasets: [{
      data: metricValue.map(function(v, i) { return {x: metricRankK[i] * 1000, y: v}; }),
      borderColor: '#B8B8B8', borderWidth: 0.8, pointRadius: 0,
      fill: {value: 0}, backgroundColor: '#BEBEBE'
    }]
  },
  options: {
    layout: {padding: {right: 1}},
    scales: {
      x: Object.assign({
        afterBuildTicks: setTicks(rankGrid), afterFit: xFix(26),
        ticks: {font: tickFont, padding: 0, maxRotation: 0, autoSkip: false,
                callback: function(v) { return v % 5000 === 0 ? String(v) : ''; }},
        grid: {color: '#E8E8E8', tickLength: 2, tickColor: '#555'}, border: {color: '#222', width: 1.2},
        title: {display: true, text: 'Rank in Ordered Dataset', color: '#222', font: {size: 11, lineHeight: 1}, padding: {top: 0, bottom: 0}}
      }, rankAxis),
      y: {
        type: 'linear', min: -4.6, max: 5.3,
        afterBuildTicks: setTicks(metricTicks), afterFit: yFix(36),
        ticks: {font: tickFont, padding: 1, callback: function(v) { return v < 0 ? '\u2212' + (-v) : String(v); }},
        grid: {drawOnChartArea: false, tickLength: 2, color: '#555'}, border: {color: '#222', width: 1.2}
      }
    }
  }
});
txt('Ranked List Metric', 13, 780, 11, {rot: true, color: '#222'});
txt('Enrichment of KEGG terms', 36, 582, 11, {color: '#222'});
gseaNames.forEach(function(n, i) {
  var y = [599, 609, 619.5, 630, 639.5][i];
  box(202, y - 0.6, 7, 1.3, 'background:' + gseaColors[i] + ';');
  if (Array.isArray(n)) {
    txt(n[0], 213, y, 9, {color: '#333'});
    txt(n[1], 213, y + 8, 9, {color: '#333'});
  } else {
    txt(n, 213, y, 9, {color: '#333'});
  }
});

// panel letters
txt('A', 3, 8, 14, {bold: true, color: '#000'});
txt('B', 345, 7, 14, {bold: true, color: '#000'});
txt('C', 2, 246, 14, {bold: true, color: '#000'});
txt('D', 340, 373, 14, {bold: true, color: '#000'});
txt('E', 3, 567, 14, {bold: true, color: '#000'});
</script>
</body>
</html>
